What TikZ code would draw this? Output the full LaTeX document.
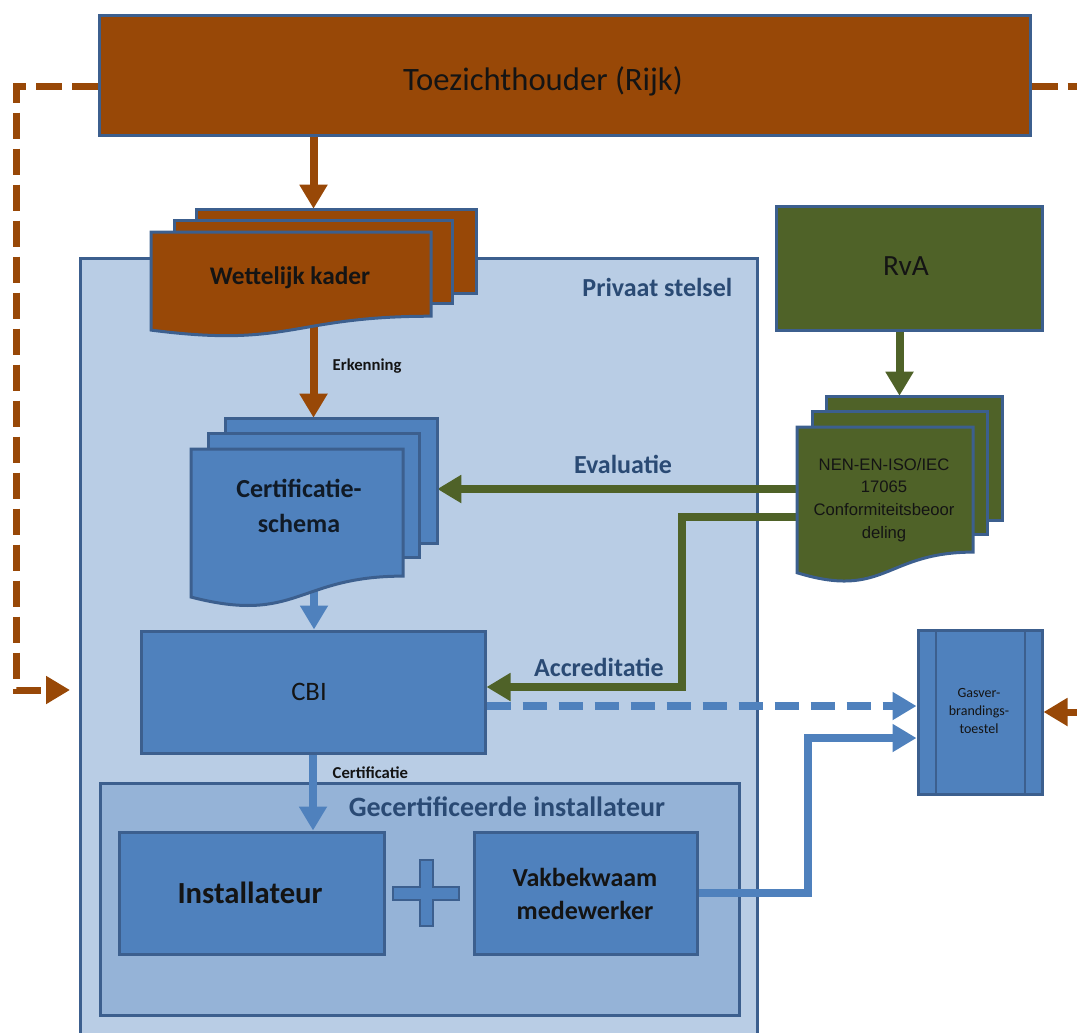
\documentclass[tikz,border=0pt]{standalone}
\usepackage{fontspec}
\setmainfont{Carlito}
\newfontfamily\arialfont{Liberation Sans}
\usetikzlibrary{arrows.meta,fit,positioning}
\definecolor{bruin}{HTML}{984807}
\definecolor{groen}{HTML}{4F6228}
\definecolor{blauw}{HTML}{4F81BD}
\definecolor{lichtblauw}{HTML}{B9CDE5}
\definecolor{middenblauw}{HTML}{95B3D7}
\definecolor{rand}{HTML}{3C5F8E}
\definecolor{donkerblauw}{HTML}{2A4A74}
\definecolor{zwart}{HTML}{141414}
\tikzset{
  blok/.style={draw=rand, line width=2.25pt, inner sep=0pt},
  pijl/.style={line width=6pt, -{Triangle[length=18pt,width=20pt]}},
  stippel/.style={line width=5.25pt, dash pattern=on 19.5pt off 7.5pt},
  kop/.style={font=\bfseries\fontsize{19.5}{23}\selectfont, text=donkerblauw},
  klein/.style={font=\bfseries\fontsize{12.5}{14}\selectfont, text=zwart},
}
%blad met golvende onderkant
\newcommand{\blad}[5]{%
  \draw[blok, fill=#5] (#1,#2) -- ({#1+#3},#2) -- ({#1+#3},{#2+0.802*#4})
    .. controls ({#1+0.5*#3},{#2+0.802*#4}) and ({#1+0.5*#3},{#2+1.1075*#4}) .. (#1,{#2+0.934*#4}) -- cycle;}
\begin{document}
\begin{tikzpicture}[x=0.75pt,y=-0.75pt]
      \useasboundingbox (0,0) rectangle (1077,1032);
      %privaat stelsel
      \node[blok, fill=lichtblauw, fit={(80,258) (757,1045)}] (privaat) {};
      \node[kop, anchor=east] (privaatlabel) at (737,287) {Privaat stelsel};
      %gecertificeerde installateur
      \node[blok, fill=middenblauw, fit={(100,783) (739,1015)}] (gecert) {};
      \node[kop, font=\bfseries\fontsize{21}{24}\selectfont] (gecertlabel) at (507,807) {Gecertificeerde installateur};
      %blokken
      \node[blok, fill=bruin, fit={(99,15) (1030,135)}] (toezicht) {};
      \node[font=\fontsize{24.5}{28}\selectfont, text=zwart] (toezichtlabel) at (543,81) {Toezichthouder (Rijk)};
      \node[blok, fill=groen, fit={(776,206) (1042,330)}] (rva) {};
      \node[font=\fontsize{22}{26}\selectfont, text=zwart] (rvalabel) at (906,266) {RvA};
      \node[blok, fill=blauw, fit={(141,631) (485,753)}] (cbi) {};
      \node[font=\fontsize{20}{24}\selectfont, text=zwart] (cbilabel) at (309,692) {CBI};
      \node[blok, fill=blauw, fit={(119,832) (384,954)}] (installateur) {};
      \node[font=\bfseries\fontsize{23}{27}\selectfont, text=zwart] (installateurlabel) at (250,893) {Installateur};
      \node[blok, fill=blauw, fit={(474,832) (697,954)}] (vak) {};
      \node[font=\bfseries\fontsize{19.5}{25}\selectfont, text=zwart, align=center] (vaklabel) at (585,894) {Vakbekwaam\\medewerker};
      \node[blok, fill=blauw, fit={(918,630) (1042,794)}] (gasver) {};
      \draw[rand, line width=1.5pt] (936,630) -- (936,794) (1025,630) -- (1025,794);
      \node[font=\fontsize{10.5}{13.5}\selectfont, text=zwart, align=center] (gasverlabel) at (979,711) {Gasver-\\brandings-\\toestel};
      %plusteken
      \draw[rand, line width=1.5pt, fill=blauw] (393,886.5) -- (419.5,886.5) -- (419.5,860) -- (432.5,860) -- (432.5,886.5) -- (459,886.5)
        -- (459,899.5) -- (432.5,899.5) -- (432.5,926) -- (419.5,926) -- (419.5,899.5) -- (393,899.5) -- cycle;
      %stapels (alleen omtrek)
      \node[inner sep=0pt, fit={(151,209) (476,330)}] (wettelijk) {};
      \node[inner sep=0pt, fit={(191,418) (437,602)}] (schema) {};
      \node[inner sep=0pt, fit={(797,396) (1002,582)}] (nen) {};
      \coordinate (knikA) at (682,687);
      \coordinate (knikV) at (808,738);
      \coordinate (hoekL) at (16,690);
      \coordinate (pijlL) at (70,690);
      \coordinate (randR) at (1077,86);
      %verbindingen
      \draw[bruin, pijl] (toezicht.south -| wettelijk.north) -- (wettelijk.north);
      \draw[bruin, pijl] (wettelijk.center) -- (wettelijk.center |- schema.north);
      \node[klein, anchor=west] (erkenning) at (328,366) {Erkenning};
      \draw[blauw, pijl] (schema.center) -- (schema.center |- cbi.north);
      \draw[blauw, pijl] (cbi.south) -- (cbi.south |- installateur.north);
      \node[klein, anchor=west] (certificatie) at (328,773) {Certificatie};
      \draw[groen, pijl] (nen.north |- rva.south) -- (nen.north);
      \draw[groen, pijl] (nen.west) -- (nen.west -| schema.east);
      \node[kop] (evaluatie) at (623,464) {Evaluatie};
      \draw[groen, pijl] ([yshift=-21pt]nen.west) -| (knikA) -- (knikA -| cbi.east);
      \node[kop] (accreditatie) at (599,667) {Accreditatie};
      \draw[blauw, stippel, line width=6pt, dash pattern=on 18pt off 9pt, -{Triangle[length=18pt,width=20pt]}]
        ([yshift=-10.5pt]cbi.east) -- ([yshift=-10.5pt]cbi.east -| gasver.west);
      \draw[blauw, pijl] (vak.east) -| (knikV) -- (knikV -| gasver.west);
      \draw[bruin, stippel, -{Triangle[length=18pt,width=20pt]}] ([yshift=-8.25pt]toezicht.west) -| (hoekL) -- (pijlL);
      \draw[bruin, stippel] ([yshift=-8.25pt]toezicht.east) -- (randR);
      \draw[bruin, stippel, -{Triangle[length=18pt,width=20pt]}] (gasver.east -| randR) -- (gasver.east);
      %wettelijk kader
      \draw[blok, fill=bruin] (196,209) rectangle (476,293);
      \draw[blok, fill=bruin] (174,220) rectangle (452,303);
      \blad{151}{232}{280}{105}{bruin}
      \node[font=\bfseries\fontsize{19}{23}\selectfont, text=zwart] (wettelijklabel) at (290,278) {Wettelijk kader};
      %certificatieschema
      \draw[blok, fill=blauw] (225,418) rectangle (437,543);
      \draw[blok, fill=blauw] (208,433) rectangle (419,557);
      \blad{191}{449}{212}{158.5}{blauw}
      \node[font=\bfseries\fontsize{19.5}{26}\selectfont, text=black!80!blauw, align=center] (schemalabel) at (299,506) {Certificatie-\\schema};
      %nen-en-iso/iec 17065
      \draw[blok, fill=groen] (826,396) rectangle (1002,520);
      \draw[blok, fill=groen] (812,411) rectangle (987,534);
      \blad{797}{427}{176}{156}{groen}
      \node[font=\arialfont\fontsize{12.5}{17}\selectfont, text=zwart, align=center] (nenlabel) at (884,500) {NEN-EN-ISO/IEC\\17065\\Conformiteitsbeoor\\deling};
\end{tikzpicture}
\end{document}
